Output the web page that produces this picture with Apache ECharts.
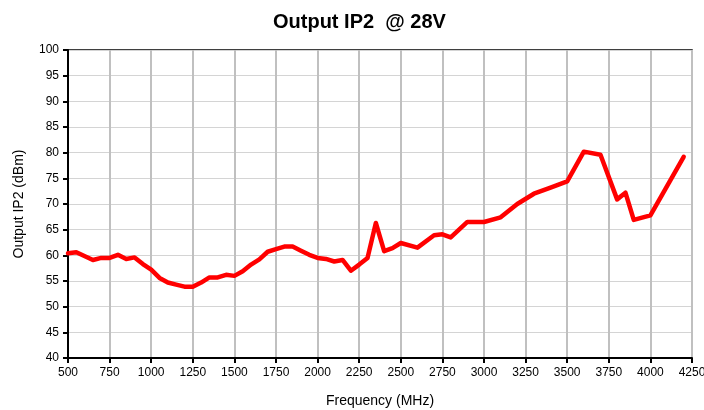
<!DOCTYPE html>
<html>
<head>
<meta charset="utf-8">
<script src="https://cdn.jsdelivr.net/npm/echarts@6/dist/echarts.min.js"></script>
<style>
  html, body { margin: 0; padding: 0; background: #fff; }
  #chart { width: 704px; height: 410px; }
</style>
</head>
<body>
<div id="chart"></div>
<script>
// frequency points (MHz) and measured output IP2 (dBm)
var freq = [500, 550, 650, 700, 750, 800, 850, 900, 950, 1000, 1050, 1100, 1150, 1200, 1250,
  1300, 1350, 1400, 1450, 1500, 1550, 1600, 1650, 1700, 1750, 1800, 1850, 1900, 1950, 2000,
  2050, 2100, 2150, 2200, 2250, 2300, 2350, 2400, 2450, 2500, 2600, 2700, 2750, 2800, 2900,
  3000, 3100, 3200, 3300, 3400, 3500, 3600, 3700, 3800, 3850, 3900, 4000, 4200];
var ip2 = [60.4, 60.6, 59.1, 59.5, 59.5, 60.1, 59.3, 59.6, 58.3, 57.2, 55.6, 54.7, 54.3, 53.9, 53.9,
  54.7, 55.7, 55.7, 56.2, 56.0, 56.9, 58.2, 59.2, 60.7, 61.2, 61.7, 61.7, 60.9, 60.1, 59.5,
  59.3, 58.8, 59.1, 57.0, 58.2, 59.5, 66.3, 60.8, 61.4, 62.4, 61.5, 63.9, 64.1, 63.5, 66.5,
  66.5, 67.4, 70.0, 72.0, 73.2, 74.4, 80.2, 79.6, 70.9, 72.2, 66.9, 67.8, 79.2];

var points = [];
for (var i = 0; i < freq.length; i++) {
  points.push([freq[i], ip2[i]]);
}

var chart = echarts.init(document.getElementById('chart'));
var option = {
  backgroundColor: '#fff',
  animation: false,
  textStyle: { fontFamily: 'Liberation Sans, Arial, sans-serif' },
  title: {
    text: 'Output IP2  @ 28V',
    left: 268,
    top: 7,
    textStyle: { fontSize: 20, fontWeight: 'bold', color: '#000', fontFamily: 'Liberation Sans, Arial, sans-serif' }
  },
  grid: {
    left: 68, right: 12, top: 50, bottom: 52,
    outerBoundsMode: 'none',
    containLabel: false,
    show: true, borderColor: '#000', borderWidth: 1.5
  },
  xAxis: {
    type: 'value',
    min: 500, max: 4250, interval: 250,
    name: 'Frequency (MHz)',
    nameLocation: 'middle',
    nameGap: 36,
    nameTextStyle: { fontSize: 14, color: '#000' },
    axisLine: { lineStyle: { color: '#000', width: 2 } },
    axisTick: { lineStyle: { color: '#000', width: 2 }, length: 5 },
    axisLabel: { fontSize: 12, color: '#000', margin: 9, formatter: function (v) { return String(v); } },
    splitLine: { show: true, lineStyle: { color: '#c0c0c0', width: 2 } }
  },
  yAxis: {
    type: 'value',
    min: 40, max: 100, interval: 5,
    name: 'Output IP2 (dBm)',
    nameLocation: 'middle',
    nameGap: 42,
    nameTextStyle: { fontSize: 14, color: '#000' },
    axisLine: { show: true, lineStyle: { color: '#000', width: 2 } },
    axisTick: { show: true, lineStyle: { color: '#000', width: 2 }, length: 5 },
    axisLabel: { fontSize: 12, color: '#000', margin: 9 },
    splitLine: { show: true, lineStyle: { color: '#d4d4d4', width: 1 } }
  },
  series: [{
    type: 'line',
    data: points,
    showSymbol: false,
    symbol: 'none',
    lineStyle: { color: '#ff0000', width: 4.5, join: 'round', cap: 'round' }
  }]
};
chart.setOption(option);
</script>
</body>
</html>
